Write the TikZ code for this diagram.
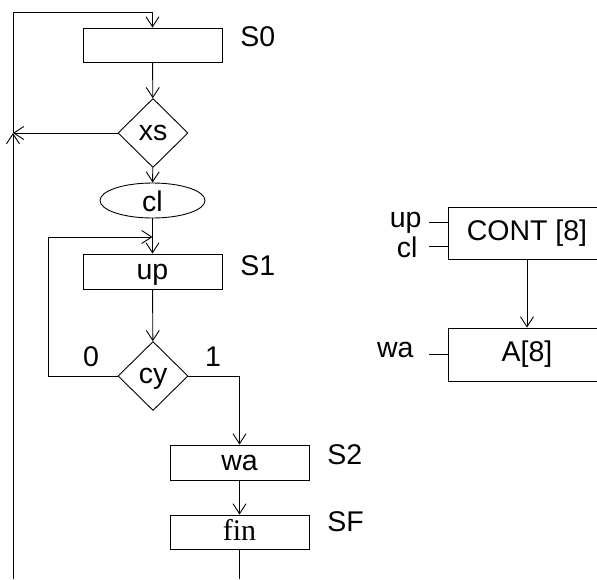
\documentclass[tikz,border=0pt]{standalone}
\usepackage{fontspec}
\setmainfont{Liberation Sans}
\newfontfamily\timesfont{Liberation Serif}
\usetikzlibrary{shapes.geometric, arrows.meta, positioning}

\begin{document}
\begin{tikzpicture}[x=1pt, y=-1pt, >={Straight Barb[length=10pt, width=13pt]}, line width=0.9pt,
  font=\fontsize{28.5}{32}\selectfont,
  box/.style={draw, rectangle, minimum width=139pt, minimum height=35pt, inner sep=0pt, text height=16pt, text depth=0pt},
  regbox/.style={draw, rectangle, minimum width=158pt, minimum height=52pt, inner sep=0pt, text height=14.8pt, text depth=0pt},
  dec/.style={draw, diamond, minimum width=70pt, minimum height=69pt, inner sep=0pt, text height=14.8pt, text depth=0pt},
  oval/.style={draw, ellipse, minimum width=105pt, minimum height=35pt, inner sep=0pt, text height=21pt, text depth=0pt},
  lbl/.style={inner sep=0pt}]
\useasboundingbox (0,0) rectangle (597,579);
% flow chart
\node[box, minimum height=34pt] (s0) at (152.5,45) {};
\node[dec] (xs) at (153,133) {xs};
\node[oval] (cl) at (152.5,200.5) {cl};
\node[box] (s1) at (152.5,271.5) {up};
\node[dec] (cy) at (153,376) {cy};
\node[box] (wa) at (239.5,462.5) {wa};
\node[box, minimum height=34pt, font=\timesfont\fontsize{30}{34}\selectfont] (fin) at (239.5,532) {fin};
% state names
\node[lbl, anchor=west] (ns0) at (240,37) {S0};
\node[lbl, anchor=west] (ns1) at (240,266) {S1};
\node[lbl, anchor=west] (ns2) at (327,455) {S2};
\node[lbl, anchor=west] (nsf) at (327,522) {SF};
\node[lbl] (c0) at (91,357) {0};
\node[lbl] (c1) at (213,357) {1};
% connectors
\coordinate (tl) at (13,12);
\coordinate (bl) at (13,579);
\coordinate (jn) at (13,133);
\coordinate (lp) at (48,237);
\coordinate (fe) at (239.5,579);
\draw[->] (jn) -- (tl) -| (s0.north);
\draw[->] (bl) -- (jn);
\draw[->] (xs.west) -- (jn);
\draw[->] (s0) -- (xs);
\draw[->] (xs) -- (cl);
\draw[->] (cl) -- (s1);
\draw[->] (cy.west) -| (lp) -- (s1.north |- lp);
\draw[->] (s1) -- (cy);
\draw[->] (cy.east) -| (wa.north);
\draw[->] (wa) -- (fin);
\draw (fin) -- (fe);
% data path
\node[regbox] (cont) at (527,233) {CONT [8]};
\node[regbox, minimum height=53pt] (areg) at (527,354.5) {A[8]};
\coordinate (iup) at (429,222);
\coordinate (icl) at (429,246);
\coordinate (iwa) at (429,354);
\node[lbl, anchor=base east] (lup) at (422,227) {up};
\node[lbl, anchor=base east] (lcl) at (418,257) {cl};
\node[lbl, anchor=base east] (lwa) at (414,357) {wa};
\draw (iup) -- (iup -| cont.west);
\draw (icl) -- (icl -| cont.west);
\draw (iwa) -- (iwa -| areg.west);
\draw[->] (cont) -- (areg);
\end{tikzpicture}
\end{document}
